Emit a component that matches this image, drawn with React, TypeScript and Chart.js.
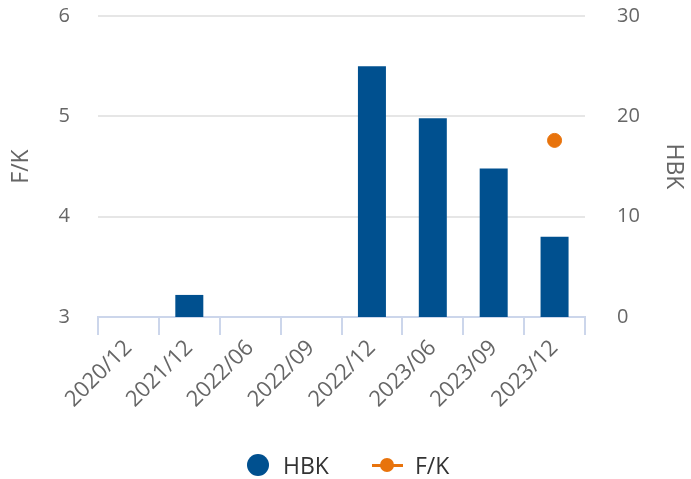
import React, { useEffect, useRef } from "react";
import { Chart, registerables } from "chart.js";

Chart.register(...registerables);

const categories = ["2020/12", "2021/12", "2022/06", "2022/09", "2022/12", "2023/06", "2023/09", "2023/12"];
const hbkValues = [0, 2.2, 0, 0, 25, 19.8, 14.8, 8.0];
const fkValues: (number | null)[] = [null, null, null, null, null, null, null, 4.76];
const leftTicks = [3, 4, 5, 6];
const rightTicks = [0, 10, 20, 30];
const legendItems = ["HBK", "F/K"];

const BLUE = "#00508f";
const ORANGE = "#e8730c";
const TEXT = "#666666";
const FONT = "'Open Sans', sans-serif";

const X_AXIS_HEIGHT = 100;

export default function App() {
  const ref = useRef<HTMLCanvasElement | null>(null);

  useEffect(() => {
    if (!ref.current) return;
    const chart = new Chart(ref.current, {
      type: "bar",
      data: {
        labels: categories,
        datasets: [
          {
            type: "bar",
            label: legendItems[0],
            data: hbkValues,
            backgroundColor: BLUE,
            yAxisID: "y1",
            categoryPercentage: 1,
            barPercentage: 0.46,
            order: 2,
          },
          {
            type: "line",
            label: legendItems[1],
            data: fkValues,
            borderColor: ORANGE,
            backgroundColor: ORANGE,
            showLine: false,
            pointRadius: 7,
            pointHoverRadius: 7,
            yAxisID: "y",
            order: 1,
          } as any,
        ],
      },
      options: {
        responsive: false,
        animation: false,
        layout: { padding: { left: 0, right: 0, top: 16, bottom: 479 - 317 - X_AXIS_HEIGHT } },
        plugins: {
          tooltip: { enabled: false },
          legend: { display: false },
        },
        scales: {
          x: {
            offset: true,
            grid: {
              offset: true,
              drawOnChartArea: false,
              drawTicks: true,
              tickLength: 18,
              color: "#ccd6eb",
              lineWidth: 2,
            },
            border: { color: "#ccd6eb", width: 2 },
            ticks: {
              color: TEXT,
              font: { family: FONT, size: 22 },
              maxRotation: 45,
              minRotation: 45,
              autoSkip: false,
              padding: 0,
            },
            afterFit: (s: any) => {
              s.height = X_AXIS_HEIGHT;
              s.paddingLeft = 0;
              s.paddingRight = 0;
            },
          },
          y: {
            position: "left",
            min: leftTicks[0],
            max: leftTicks[leftTicks.length - 1],
            afterBuildTicks: (axis: any) => {
              axis.ticks = leftTicks.map((v) => ({ value: v }));
            },
            grid: { color: "#e6e6e6", lineWidth: 2, drawTicks: false },
            border: { display: false },
            ticks: { color: TEXT, font: { family: FONT, size: 20 }, padding: 28 },
            title: { display: true, text: "F/K", color: TEXT, font: { family: FONT, size: 23 }, padding: { top: 8, bottom: 0 } },
            afterFit: (s: any) => {
              s.width = 98;
              s.paddingTop = 8;
              s.paddingBottom = 8;
            },
          },
          y1: {
            position: "right",
            min: rightTicks[0],
            max: rightTicks[rightTicks.length - 1],
            afterBuildTicks: (axis: any) => {
              axis.ticks = rightTicks.map((v) => ({ value: v }));
            },
            grid: { display: false, drawTicks: false },
            border: { display: false },
            ticks: { color: TEXT, font: { family: FONT, size: 20 }, padding: 32 },
            title: { display: true, text: "HBK", color: TEXT, font: { family: FONT, size: 23 }, padding: { top: 4, bottom: 0 } },
            afterFit: (s: any) => {
              s.width = 691 - 585;
              s.paddingTop = 8;
              s.paddingBottom = 8;
            },
          },
        },
      },
    });
    return () => chart.destroy();
  }, []);

  const legendText: React.CSSProperties = {
    position: "absolute",
    top: 451,
    fontFamily: FONT,
    fontSize: 23,
    lineHeight: "28px",
    color: "#333333",
    whiteSpace: "nowrap",
  };

  return (
    <div style={{ position: "absolute", left: 0, top: 0, width: 691, height: 479 }}>
      <canvas ref={ref} width={691} height={479} />
      <div style={{ position: "absolute", left: 247, top: 454, width: 22, height: 22, borderRadius: "50%", background: BLUE }} />
      <span style={{ ...legendText, left: 283 }}>{legendItems[0]}</span>
      <div style={{ position: "absolute", left: 372, top: 464, width: 31, height: 3, background: ORANGE }} />
      <div style={{ position: "absolute", left: 380, top: 458, width: 14, height: 14, borderRadius: "50%", background: ORANGE }} />
      <span style={{ ...legendText, left: 415 }}>{legendItems[1]}</span>
    </div>
  );
}
